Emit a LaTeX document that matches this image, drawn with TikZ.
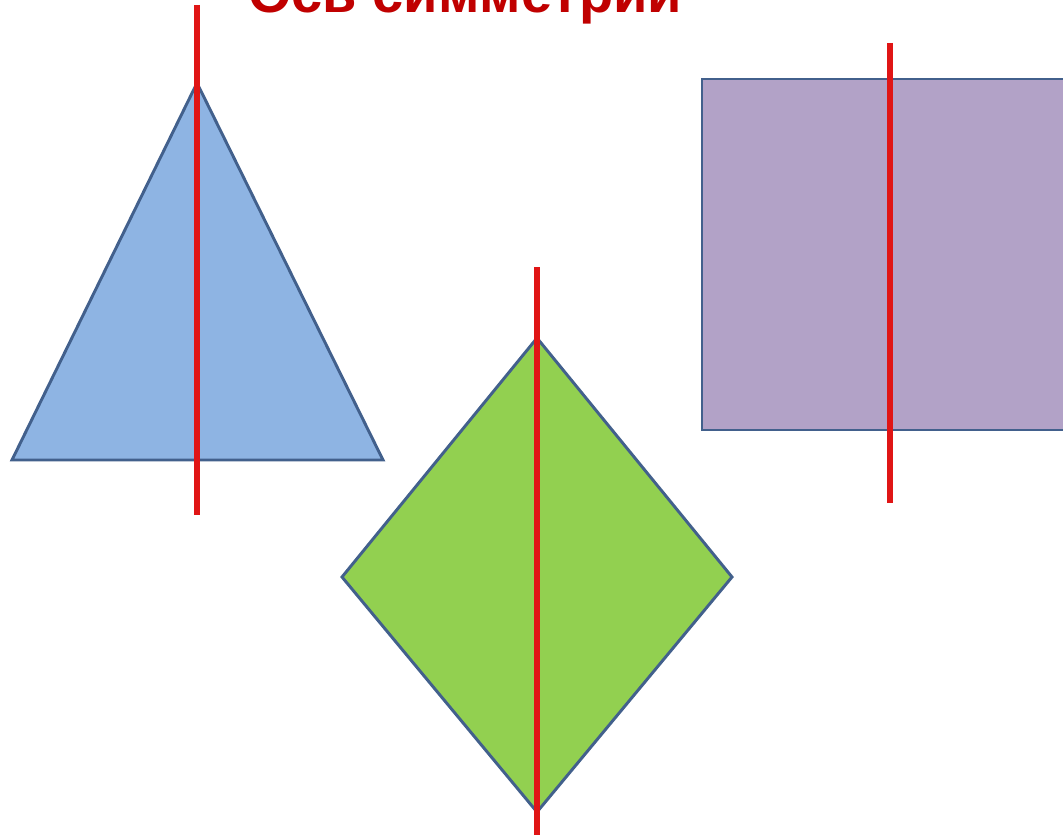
\documentclass[tikz,border=0pt]{standalone}
\usepackage{fontspec}
\setmainfont{Liberation Sans}
\definecolor{edge}{HTML}{42608C}
\definecolor{axis}{HTML}{E01515}
\definecolor{title}{HTML}{C00000}
\definecolor{tri}{HTML}{8EB4E3}
\definecolor{rhomb}{HTML}{92D050}
\definecolor{rect}{HTML}{B2A2C7}
\tikzset{
  shapeline/.style={draw=edge, line width=2.2pt, line join=miter},
  axisline/.style={draw=axis, line width=4pt},
}
\begin{document}
\begin{tikzpicture}[x=0.75pt,y=-0.75pt]
\useasboundingbox (0,0) rectangle (1063,838);
\clip (0,0) rectangle (1063,838);
\fill[white] (0,0) rectangle (1063,838);
% title (clipped at top)
\node[anchor=base, text=title, font=\bfseries\fontsize{42}{50}\selectfont, inner sep=0pt] (title) at (465,13) {Ось симметрии};
% triangle
\coordinate (tA) at (197,83);
\coordinate (tB) at (12,460);
\coordinate (tC) at (383,460);
\filldraw[fill=tri, shapeline] (tA) -- (tB) -- (tC) -- cycle;
\coordinate (t1) at (197,5);
\coordinate (t2) at (197,515);
\draw[axisline] (t1) -- (t2);
% rhombus
\coordinate (dT) at (537,338);
\coordinate (dL) at (342,577);
\coordinate (dB) at (537,812);
\coordinate (dR) at (732,577);
\filldraw[fill=rhomb, shapeline] (dT) -- (dL) -- (dB) -- (dR) -- cycle;
\coordinate (d1) at (537,267);
\coordinate (d2) at (537,835);
\draw[axisline] (d1) -- (d2);
% rectangle
\coordinate (r1) at (702,79);
\coordinate (r2) at (1075,430);
\filldraw[fill=rect, shapeline] (r1) rectangle (r2);
\coordinate (a1) at (890,43);
\coordinate (a2) at (890,503);
\draw[axisline] (a1) -- (a2);
\end{tikzpicture}
\end{document}
